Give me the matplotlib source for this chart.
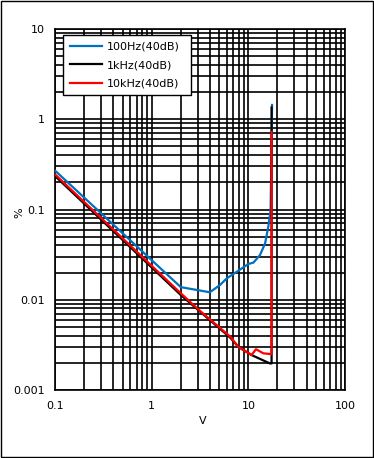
import matplotlib
matplotlib.use('Agg')
import matplotlib.pyplot as plt
from matplotlib.patches import Rectangle
from matplotlib.ticker import LogLocator, NullFormatter

# values (V vs. %)
v_100hz = [0.1, 2.0, 4.0, 5.1, 6.0, 7.9, 10.0, 11.3, 13.2, 14.9, 16.1, 17.0, 17.6]
pct_100hz = [0.27, 0.0138, 0.0121, 0.0146, 0.0173, 0.021, 0.0249, 0.0258, 0.0313, 0.042, 0.0645, 0.0987, 1.44]

v_1khz = [0.1, 2.0, 6.5, 7.9, 10.8, 16.7, 17.4, 17.4]
pct_1khz = [0.235, 0.0113, 0.0038, 0.0030, 0.00244, 0.00197, 0.00197, 1.35]

v_10khz = [0.1, 2.0, 3.0, 6.5, 7.9, 10.8, 12.0, 14.3, 17.0, 17.4, 17.4]
pct_10khz = [0.245, 0.0118, 0.0079, 0.0039, 0.0030, 0.00244, 0.00283, 0.00255, 0.0025, 0.0025, 0.72]

series_labels = ['100Hz(40dB)', '1kHz(40dB)', '10kHz(40dB)']
series_colors = ['#0070C0', 'black', '#FF0000']

x_ticks = [0.1, 1, 10, 100]
x_ticklabels = ['0.1', '1', '10', '100']
y_ticks = [0.001, 0.01, 0.1, 1, 10]
y_ticklabels = ['0.001', '0.01', '0.1', '1', '10']

fig = plt.figure(figsize=(3.74, 4.58), dpi=100)
ax = fig.add_axes([55 / 374, 68 / 458, 290 / 374, 361 / 458])

for v, p, lab, col in zip([v_100hz, v_1khz, v_10khz],
                          [pct_100hz, pct_1khz, pct_10khz],
                          series_labels, series_colors):
    ax.plot(v, p, color=col, lw=1.6, label=lab, zorder=3)

ax.set_xscale('log')
ax.set_yscale('log')
ax.set_xlim(0.1, 100)
ax.set_ylim(0.001, 10)
ax.set_xticks(x_ticks, x_ticklabels)
ax.set_yticks(y_ticks, y_ticklabels)
ax.xaxis.set_minor_locator(LogLocator(base=10, subs=range(2, 10)))
ax.yaxis.set_minor_locator(LogLocator(base=10, subs=range(2, 10)))
ax.xaxis.set_minor_formatter(NullFormatter())
ax.yaxis.set_minor_formatter(NullFormatter())
ax.tick_params(axis='x', which='both', length=0, labelsize=8, pad=8)
ax.tick_params(axis='y', which='both', length=0, labelsize=8, pad=7)
ax.grid(which='both', color='black', lw=1.2, zorder=1)
ax.set_axisbelow(True)
for s in ax.spines.values():
    s.set_color('black')
    s.set_linewidth(1.2)

ax.set_xlabel('V', fontsize=8)
ax.set_ylabel('%', fontsize=8, rotation=90)
ax.xaxis.set_label_coords(0.51, -0.072)
ax.yaxis.set_label_coords(-0.104, 0.49)

leg = ax.legend(loc='upper left', bbox_to_anchor=(0.028, 0.8, 0.441, 0.183), mode='expand',
                borderaxespad=0, fancybox=False, framealpha=1, edgecolor='black', fontsize=8,
                handlelength=2.9, handletextpad=0.45, labelspacing=0.75, borderpad=0.6)
leg.get_frame().set_linewidth(1.0)

fig.patches.append(Rectangle((0.002, 0.002), 0.995, 0.995, transform=fig.transFigure,
                             fill=False, edgecolor='black', lw=1.0))

fig.savefig('out.png', dpi=100)
